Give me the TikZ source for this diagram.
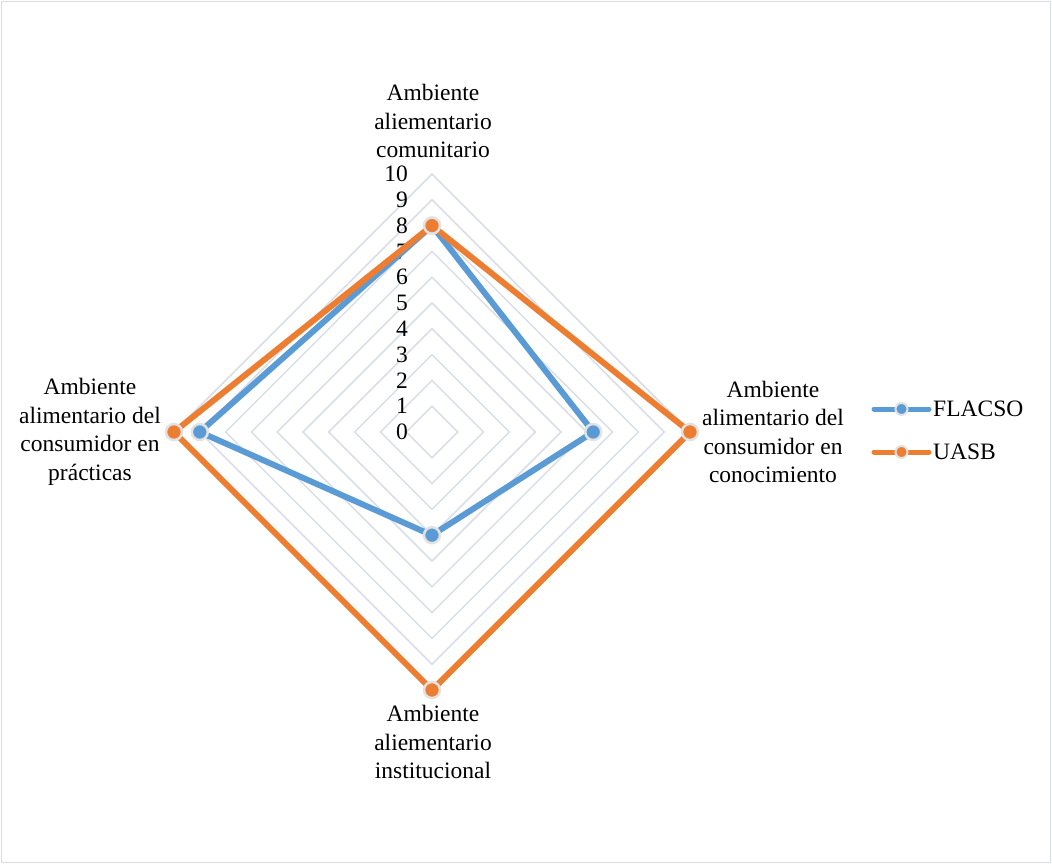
\documentclass[tikz,border=0pt]{standalone}
\usepackage{fontspec}
\setmainfont{Liberation Serif}
\usepackage{tikz}
\usetikzlibrary{calc}
\definecolor{flacso}{RGB}{91,155,213}
\definecolor{uasb}{RGB}{237,125,49}
\definecolor{rejilla}{RGB}{217,222,231}
\definecolor{borde}{RGB}{226,226,226}
\tikzset{
  texto/.style={align=center, inner sep=0pt, font=\fontsize{23.5}{28.5}\selectfont},
  serie/.style={line width=6pt, line join=round, draw=#1},
  punto/.style={circle, fill=#1, draw=borde, line width=2.5pt, inner sep=0pt, minimum size=16pt},
  puntoley/.style={circle, fill=#1, draw=borde, line width=2pt, inner sep=0pt, minimum size=12pt},
}

\begin{document}
\begin{tikzpicture}[x=1pt, y=-1pt]
\useasboundingbox (0,0) rectangle (1052,864);
\draw[rejilla, line width=1.2pt] (1.5,1.5) rectangle (1050.5,862.5);

\coordinate (c) at (432,432);
% rejilla
\foreach \r in {1,...,10}
  \draw[rejilla, line width=1.5pt] (c) ++(0,-25.8*\r) -- ++(25.8*\r,25.8*\r)
    -- ++(-25.8*\r,25.8*\r) -- ++(-25.8*\r,-25.8*\r) -- cycle;
\foreach \i in {0,...,10}
  \node[texto, anchor=east] (t\i) at (408,{432-25.8*\i}) {\i};

% ejes
\node[texto] (ejeN) at (433,121) {Ambiente\\aliementario\\comunitario};
\node[texto] (ejeE) at (773,432) {Ambiente\\alimentario del\\consumidor en\\conocimiento};
\node[texto] (ejeS) at (433,742) {Ambiente\\aliementario\\institucional};
\node[texto] (ejeO) at (90,432) {Ambiente\\alimentario del\\consumidor en\\prácticas};

% series
\coordinate (f1) at ($(c)+(0,-25.8*8)$);
\coordinate (f2) at ($(c)+(25.8*6.25,0)$);
\coordinate (f3) at ($(c)+(0,25.8*4)$);
\coordinate (f4) at ($(c)+(-25.8*9,0)$);
\coordinate (u1) at ($(c)+(0,-25.8*8)$);
\coordinate (u2) at ($(c)+(25.8*10,0)$);
\coordinate (u3) at ($(c)+(0,25.8*10)$);
\coordinate (u4) at ($(c)+(-25.8*10,0)$);

\draw[serie=flacso] (f1) -- (f2) -- (f3) -- (f4) -- cycle;
\foreach \k in {1,...,4} \node[punto=flacso] (pf\k) at (f\k) {};
\draw[serie=uasb] (u1) -- (u2) -- (u3) -- (u4) -- cycle;
\foreach \k in {1,...,4} \node[punto=uasb] (pu\k) at (u\k) {};

% leyenda
\coordinate (la1) at (874,409);
\coordinate (lb1) at (929,409);
\coordinate (la2) at (874,452);
\coordinate (lb2) at (929,452);
\draw[flacso, line width=5pt, line cap=round] (la1) -- (lb1);
\node[puntoley=flacso] (lf) at (901.5,409) {};
\node[texto, anchor=west] (lfla) at (933,409) {FLACSO};
\draw[uasb, line width=5pt, line cap=round] (la2) -- (lb2);
\node[puntoley=uasb] (lu) at (901.5,452) {};
\node[texto, anchor=west] (luas) at (933,452) {UASB};
\end{tikzpicture}
\end{document}
